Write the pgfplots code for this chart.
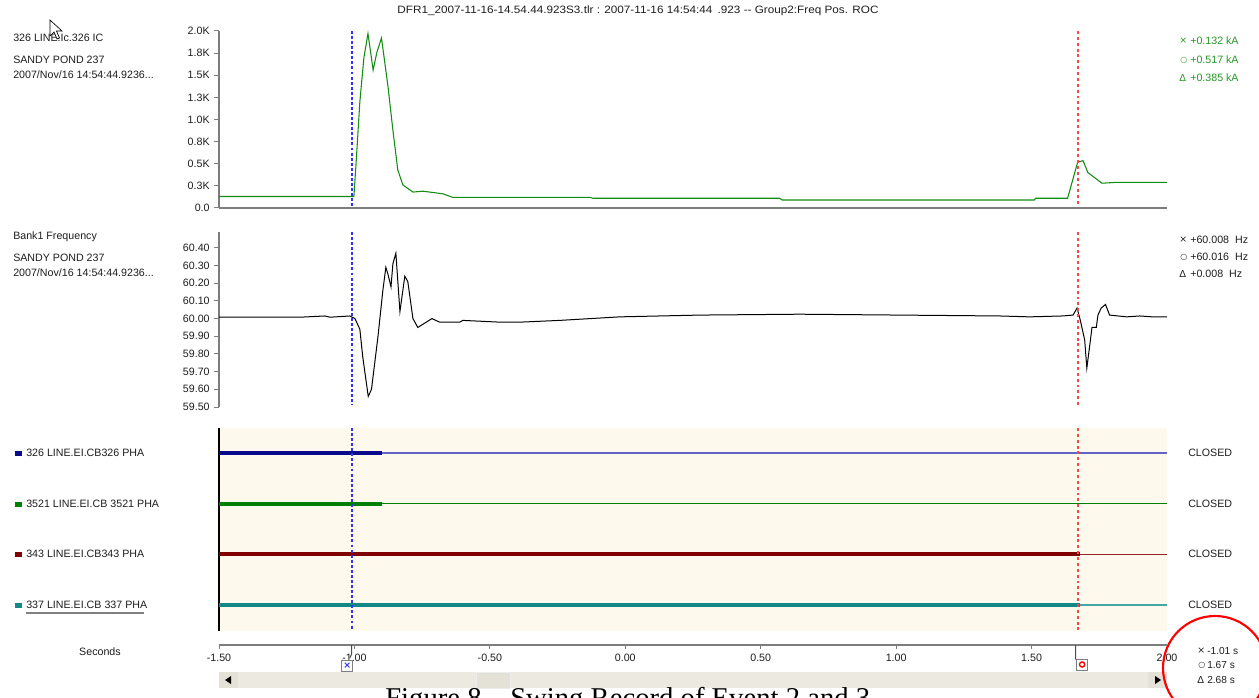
\documentclass[border=0pt]{standalone}
\usepackage{pgfplots}
\usepackage{pgfplotstable}
\pgfplotsset{compat=1.18}
\usepackage{fontspec}
\setmainfont{Liberation Sans}
\newfontfamily\symfont{DejaVu Sans}
\newfontfamily\capfont{Liberation Serif}

\definecolor{curgreen}{RGB}{20,140,20}
\definecolor{rdgreen}{RGB}{40,150,40}
\definecolor{cream}{RGB}{253,249,237}
\definecolor{axgray}{RGB}{125,125,125}
\definecolor{cursblue}{RGB}{50,50,255}
\definecolor{cursred}{RGB}{255,70,70}
\definecolor{chnavy}{RGB}{10,10,140}
\definecolor{chnavythin}{RGB}{100,100,200}
\definecolor{chgreen}{RGB}{0,128,0}
\definecolor{chred}{RGB}{128,0,0}
\definecolor{chredthin}{RGB}{150,40,40}
\definecolor{chteal}{RGB}{20,135,135}
\definecolor{chtealthin}{RGB}{70,165,165}
\definecolor{scroll}{RGB}{236,234,224}
\definecolor{btn}{RGB}{228,226,214}
\definecolor{txt}{RGB}{30,30,30}

\newcommand{\lbl}{\fontsize{8}{9.5}\selectfont}
\newcommand{\sm}{\fontsize{7.6}{9}\selectfont}
\newcommand{\sX}{{\symfont\fontsize{7}{8}\selectfont ×}}
\newcommand{\sO}{{\symfont\fontsize{6}{8}\selectfont ○}}
\newcommand{\sD}{{\fontsize{7.6}{8}\selectfont Δ}}

% phase current 326 IC (kA) against time (s)
\pgfplotstableread{
t I
-1.500 0.13
-1.002 0.13
-0.994 0.50
-0.980 1.20
-0.965 1.70
-0.950 1.97
-0.931 1.56
-0.917 1.76
-0.900 1.92
-0.876 1.37
-0.858 0.88
-0.840 0.43
-0.821 0.26
-0.784 0.18
-0.747 0.19
-0.673 0.16
-0.637 0.12
-0.130 0.12
-0.120 0.11
 0.570 0.11
 0.580 0.09
 1.510 0.09
 1.515 0.11
 1.633 0.11
 1.670 0.517
 1.690 0.535
 1.708 0.40
 1.760 0.28
 1.814 0.29
 2.000 0.29
}\currentdata

% Bank1 frequency (Hz) against time (s)
\pgfplotstableread{
t f
-1.500 60.008
-1.201 60.008
-1.109 60.015
-1.090 60.008
-1.017 60.015
-0.998 60.000
-0.980 59.940
-0.969 59.780
-0.949 59.560
-0.937 59.600
-0.913 59.900
-0.895 60.160
-0.884 60.290
-0.876 60.250
-0.865 60.180
-0.858 60.310
-0.847 60.370
-0.832 60.040
-0.814 60.240
-0.803 60.210
-0.784 60.000
-0.766 59.950
-0.714 60.000
-0.685 59.980
-0.611 59.980
-0.600 59.990
-0.463 59.980
-0.389 59.980
-0.242 59.990
-0.020 60.010
 0.275 60.020
 0.644 60.025
 1.013 60.020
 1.382 60.015
 1.493 60.010
 1.614 60.015
 1.653 60.020
 1.668 60.060
 1.680 59.990
 1.696 59.880
 1.704 59.720
 1.714 59.840
 1.723 59.950
 1.739 59.950
 1.745 60.020
 1.757 60.060
 1.773 60.080
 1.788 60.020
 1.851 60.010
 1.899 60.015
 1.947 60.010
 2.000 60.010
}\freqdata

% cursor times (s)
\def\tA{-1.01}
\def\tB{1.67}

\begin{document}
\begin{tikzpicture}
\useasboundingbox (0,0) rectangle (1259*0.75pt,-698*0.75pt);
\clip (0,0) rectangle (1259*0.75pt,-698*0.75pt);
\fill[white] (0,0) rectangle (1259*0.75pt,-698*0.75pt);

\pgfplotsset{
  panel/.style={
    scale only axis, width=711pt,
    xmin=-1.5, xmax=2.0,
    axis line style={-, draw=axgray, line width=1.5pt},
    tick style={axgray, line width=0.75pt},
    tick align=outside, major tick length=3.5pt,
    ticklabel style={font=\lbl, text=txt},
    clip=false,
  },
}
% ends of the two cursor lines in a panel, kept for drawing after the axes
\newcommand{\cursorends}[3]{%
  \coordinate (a#1top) at (axis cs:\tA,#3);
  \coordinate (a#1bot) at (axis cs:\tA,#2);
  \coordinate (b#1top) at (axis cs:\tB,#3);
  \coordinate (b#1bot) at (axis cs:\tB,#2);
}

% ---- current panel
\begin{axis}[panel, at={(219*0.75pt,-208*0.75pt)}, anchor=south west,
  height=132.75pt, ymin=0, ymax=2,
  axis x line*=bottom, axis y line*=left,
  xtick=\empty,
  ytick={0,0.25,...,2},
  yticklabels={0.0,0.3K,0.5K,0.8K,1.0K,1.3K,1.5K,1.8K,2.0K}]
\cursorends{1}{0.02}{2}
\addplot[color=curgreen, line width=0.8pt] table[x=t,y=I] {\currentdata};
\end{axis}

% ---- frequency panel
\begin{axis}[panel, at={(219*0.75pt,-407*0.75pt)}, anchor=south west,
  height=131.25pt, ymin=59.5, ymax=60.49,
  axis x line=none, axis y line*=left,
  xtick=\empty,
  ytick={59.5,59.6,...,60.41},
  yticklabels={59.50,59.60,59.70,59.80,59.90,60.00,60.10,60.20,60.30,60.40}]
\cursorends{2}{59.51}{60.49}
\addplot[color=black, line width=0.75pt] table[x=t,y=f] {\freqdata};
\end{axis}

% ---- breaker status channels: thin for the whole record, thick while held
\begin{axis}[panel, at={(219*0.75pt,-631*0.75pt)}, anchor=south west,
  height=152.25pt, y dir=reverse, ymin=0.507, ymax=4.513,
  axis background/.style={fill=cream},
  axis x line=none, axis y line*=left,
  axis line style={-, draw=black, line width=1.5pt},
  xtick=\empty, ytick=\empty]
\cursorends{3}{4.49}{0.507}
\addplot[color=chgreen, line width=0.9pt] coordinates {(-1.5,2) (2.0,2)};
\addplot[color=chnavythin, line width=0.8pt] coordinates {(-1.5,1) (2.0,1)};
\addplot[color=chredthin, line width=0.8pt] coordinates {(-1.5,3) (2.0,3)};
\addplot[color=chtealthin, line width=0.8pt] coordinates {(-1.5,4) (2.0,4)};
\addplot[color=chnavy, line width=3pt] coordinates {(-1.5,1) (-0.90,1)};
\addplot[color=chgreen, line width=3pt] coordinates {(-1.5,2) (-0.90,2)};
\addplot[color=chred, line width=3pt] coordinates {(-1.5,3) (1.68,3)};
\addplot[color=chteal, line width=3pt] coordinates {(-1.5,4) (1.68,4)};
\end{axis}

% ---- time axis
\begin{axis}[panel, at={(219*0.75pt,-645*0.75pt)}, anchor=south west,
  height=8pt, ymin=0, ymax=1,
  axis x line*=bottom, axis y line=none,
  xtick={-1.5,-1,...,2},
  xticklabels={-1.50,-1.00,-0.50,0.00,0.50,1.00,1.50,2.00},
  ytick=\empty, major tick length=3pt]
\addplot[draw=none] coordinates {(-1.5,0) (2,0)};
\coordinate (aflag) at (axis cs:\tA,0);
\coordinate (bflag) at (axis cs:\tB,0);
\end{axis}

% ---- cursor lines
\foreach \p in {1,2,3} {
  \draw[draw=cursred, line width=1.4pt, dash pattern=on 2.2pt off 2.2pt] (b\p top) -- (b\p bot);
  \draw[draw=cursblue, line width=1.2pt, dash pattern=on 2.2pt off 1.6pt] (a\p top) -- (a\p bot);
}

\begin{scope}[x=0.75pt,y=-0.75pt]
% title
\node[font=\fontsize{8}{9.5}\selectfont, text=txt] at (638,11)
  {\scalebox{1.1}[1]{DFR1\_2007-11-16-14.54.44.923S3.tlr : 2007-11-16 14:54:44~\,.923 -{}- Group2:Freq Pos. ROC}};

% channel captions, current panel
\node[anchor=west, inner sep=0, font=\lbl, text=txt] at (13,38) {326 LINE.Ic.326 IC};
\node[anchor=west, inner sep=0, font=\lbl, text=txt] at (13,60) {SANDY POND 237};
\node[anchor=west, inner sep=0, font=\lbl, text=txt] at (13,75) {2007/Nov/16 14:54:44.9236...};
% pointer
\draw[black, fill=white, line width=0.5pt, line join=miter]
  (50,20) -- (50,36) -- (54,32) -- (57,39) -- (59.5,38) -- (56.5,31) -- (62,31) -- cycle;

% channel captions, frequency panel
\node[anchor=west, inner sep=0, font=\lbl, text=txt] at (13,237) {Bank1 Frequency};
\node[anchor=west, inner sep=0, font=\lbl, text=txt] at (13,258) {SANDY POND 237};
\node[anchor=west, inner sep=0, font=\lbl, text=txt] at (13,273) {2007/Nov/16 14:54:44.9236...};

% cursor readouts, current
\node[anchor=west, inner sep=0, text=rdgreen] at (1179,41) {\sX};
\node[anchor=west, inner sep=0, text=rdgreen] at (1180,60) {\sO};
\node[anchor=west, inner sep=0, text=rdgreen] at (1179,78) {\sD};
\node[anchor=west, inner sep=0, font=\lbl, text=rdgreen] at (1190,41) {+0.132 kA};
\node[anchor=west, inner sep=0, font=\lbl, text=rdgreen] at (1190,60) {+0.517 kA};
\node[anchor=west, inner sep=0, font=\lbl, text=rdgreen] at (1190,78) {+0.385 kA};

% cursor readouts, frequency
\node[anchor=west, inner sep=0, text=txt] at (1179,240) {\sX};
\node[anchor=west, inner sep=0, text=txt] at (1180,257) {\sO};
\node[anchor=west, inner sep=0, text=txt] at (1179,274) {\sD};
\node[anchor=west, inner sep=0, font=\lbl, text=txt] at (1190,240) {+60.008~~Hz};
\node[anchor=west, inner sep=0, font=\lbl, text=txt] at (1190,257) {+60.016~~Hz};
\node[anchor=west, inner sep=0, font=\lbl, text=txt] at (1190,274) {+0.008~~Hz};

% status channel captions
\fill[chnavy] (15,451) rectangle (22,456);
\node[anchor=west, inner sep=0, font=\lbl, text=txt] at (26,453) {326 LINE.EI.CB326 PHA};
\fill[chgreen] (15,502) rectangle (22,507);
\node[anchor=west, inner sep=0, font=\lbl, text=txt] at (26,504) {3521 LINE.EI.CB 3521 PHA};
\fill[chred] (15,552) rectangle (22,557);
\node[anchor=west, inner sep=0, font=\lbl, text=txt] at (26,554) {343 LINE.EI.CB343 PHA};
\fill[chteal] (15,603) rectangle (22,608);
\node[anchor=west, inner sep=0, font=\lbl, text=txt] at (26,605) {337 LINE.EI.CB 337 PHA};
\draw[gray, line width=0.9pt] (26,613) -- (144,613);
\foreach \yy in {453,504,554,605}
  \node[anchor=west, inner sep=0, font=\lbl, text=txt] at (1188,\yy) {CLOSED};

% time axis caption
\node[font=\lbl, text=txt] at (100,652) {Seconds};

% scroll bar
\fill[scroll] (219,672) rectangle (1167,688);
\fill[btn] (219,672) rectangle (238,688);
\fill[black] (225,680) -- (231,676) -- (231,684) -- cycle;
\fill[btn] (1148,672) rectangle (1167,688);
\fill[black] (1161,680) -- (1155,676) -- (1155,684) -- cycle;
\fill[btn] (476,672) rectangle (510,688);
\draw[white!85!gray] (476,672) rectangle (510,688);

% cursor time readouts
\node[anchor=west, inner sep=0, text=txt] at (1197,651) {\sX};
\node[anchor=west, inner sep=0, text=txt] at (1198,665) {\sO};
\node[anchor=west, inner sep=0, text=txt] at (1197,680) {\sD};
\node[anchor=west, inner sep=0, font=\sm, text=txt] at (1207,651) {-1.01 s};
\node[anchor=west, inner sep=0, font=\sm, text=txt] at (1207,665) {1.67 s};
\node[anchor=west, inner sep=0, font=\sm, text=txt] at (1207,680) {2.68 s};
\draw[red, line width=1.6pt] (1215,668) circle[radius=52];

% caption
\node[anchor=base west, inner sep=0, font=\capfont\fontsize{21.5}{25}\selectfont] at (385,707)
  {Figure 8 – Swing Record of Event 2 and 3};
\end{scope}

% cursor flags under the time axis
\begin{scope}[shift={(aflag)}, x=0.75pt, y=-0.75pt]
\draw[black!70, line width=0.75pt] (0,0) -- (0,9) -- (-2,13);
\draw[gray, fill=white, line width=0.6pt] (-10,15) rectangle (1,26);
\node[inner sep=0, text=cursblue] at (-4.5,20.5) {{\symfont\fontsize{7}{8}\selectfont\bfseries ×}};
\end{scope}
\begin{scope}[shift={(bflag)}, x=0.75pt, y=-0.75pt]
\draw[black!70, line width=0.75pt, rounded corners=1pt] (-2,0) -- (-2,15) -- (1,17);
\draw[gray, fill=white, line width=0.6pt] (-1,14) rectangle (10,25);
\draw[red, line width=1pt] (4.5,19.5) circle[radius=2.6];
\end{scope}
\end{tikzpicture}
\end{document}
